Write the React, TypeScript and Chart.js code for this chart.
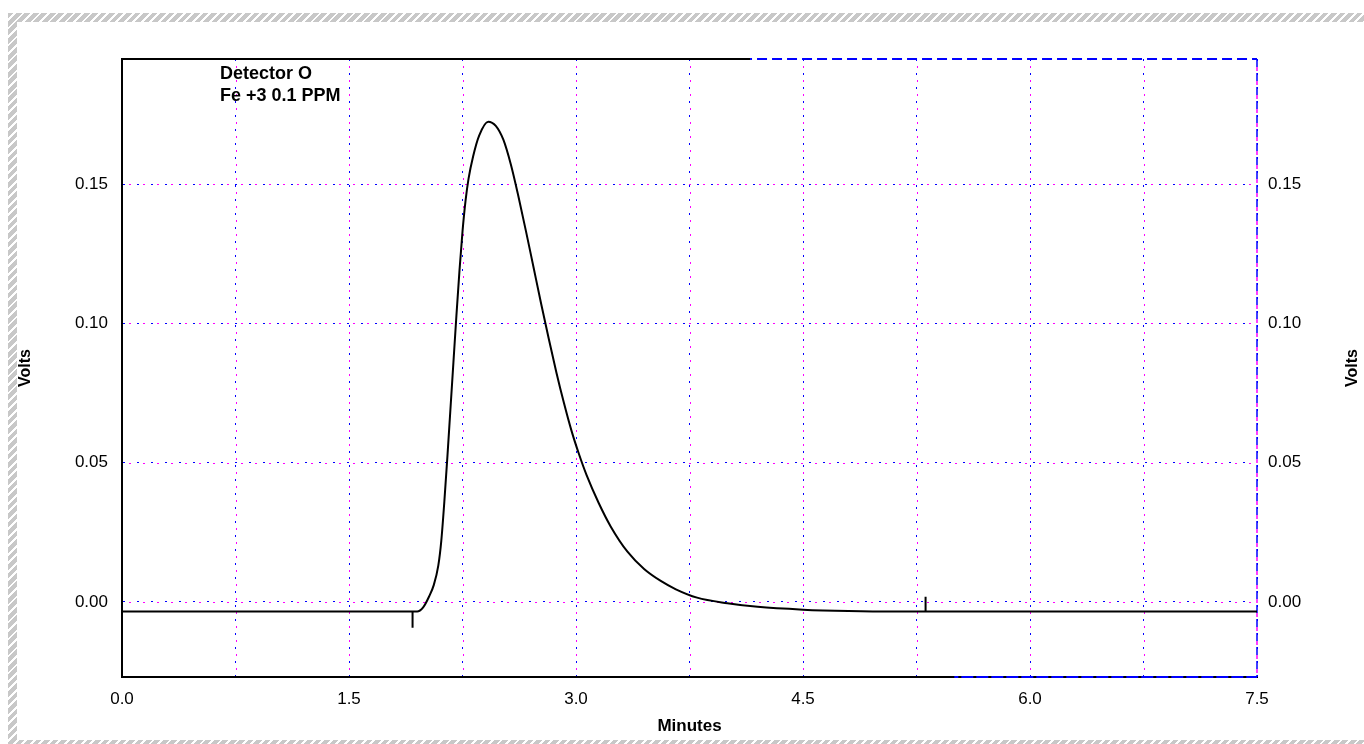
import React, { useEffect, useRef } from "react";
import { Chart, registerables } from "chart.js";

Chart.register(...registerables);

// ---- data ----
const times = [
  0, 1.9, 1.95, 1.99, 2.03, 2.06, 2.09, 2.11, 2.13, 2.15, 2.17, 2.19, 2.21, 2.23,
  2.25, 2.27, 2.29, 2.32, 2.36, 2.42, 2.47, 2.52, 2.57, 2.62, 2.67, 2.72, 2.77,
  2.82, 2.87, 2.92, 2.97, 3.02, 3.07, 3.15, 3.23, 3.34, 3.45, 3.56, 3.66, 3.8, 4.0,
  4.2, 4.5, 4.8, 5.1, 7.5,
];
const volts = [
  -0.0035, -0.0035, -0.0035, -0.002, 0.002, 0.006, 0.013, 0.022, 0.036, 0.052,
  0.069, 0.086, 0.103, 0.119, 0.133, 0.144, 0.152, 0.16, 0.1675, 0.1725, 0.171,
  0.166, 0.157, 0.1455, 0.133, 0.12, 0.107, 0.0945, 0.0825, 0.0715, 0.0615, 0.053,
  0.0455, 0.0355, 0.027, 0.018, 0.0118, 0.0075, 0.0045, 0.0015, -0.0005, -0.0018,
  -0.0028, -0.0033, -0.0035, -0.0035,
];
const markerTimes = [1.92, 5.31];
const markerTops = [-0.0093, 0.0018];
const baselineVolts = -0.0035;
const yTicks = [0, 0.05, 0.1, 0.15];
const xTickStep = 0.75;
const xLabelStep = 1.5;
const xRange = [0, 7.5];
const yRange = [-0.027, 0.195];
const headerLines = ["Detector O", "Fe +3 0.1 PPM"];
const xTitle = "Minutes";
const yTitle = "Volts";

const FONT = "'Liberation Sans', Arial, sans-serif";
const BLUE = "#0000ff";
const MAGENTA = "#ff00ff";

const overlayPlugin = {
  id: "overlay",
  beforeDatasetsDraw(chart: any) {
    const { ctx, chartArea, scales } = chart;
    const { left, right, top, bottom } = chartArea;
    const x = scales.x;
    const y = scales.y;
    ctx.save();
    // magenta interleaved grid dashes
    ctx.strokeStyle = MAGENTA;
    ctx.lineWidth = 1;
    ctx.setLineDash([2, 12]);
    ctx.lineDashOffset = -7;
    x.ticks.forEach((t: any) => {
      const px = Math.round(x.getPixelForValue(t.value)) + 0.5;
      if (px < left + 2 || px > right - 2) return;
      ctx.beginPath();
      ctx.moveTo(px, top);
      ctx.lineTo(px, bottom);
      ctx.stroke();
    });
    y.ticks.forEach((t: any) => {
      const py = Math.round(y.getPixelForValue(t.value)) + 0.5;
      ctx.beginPath();
      ctx.moveTo(left, py);
      ctx.lineTo(right, py);
      ctx.stroke();
    });
    // top frame
    const split = x.getPixelForValue(4.15);
    ctx.setLineDash([]);
    ctx.strokeStyle = "#000";
    ctx.lineWidth = 2;
    ctx.beginPath();
    ctx.moveTo(left, top);
    ctx.lineTo(split, top);
    ctx.stroke();
    ctx.strokeStyle = BLUE;
    ctx.setLineDash([10, 5]);
    ctx.beginPath();
    ctx.moveTo(split, top);
    ctx.lineTo(right, top);
    ctx.stroke();
    // bottom frame beyond black part
    const bsplit = x.getPixelForValue(5.5);
    ctx.setLineDash([12, 3]);
    ctx.strokeStyle = BLUE;
    ctx.beginPath();
    ctx.moveTo(bsplit, bottom);
    ctx.lineTo(right, bottom);
    ctx.stroke();
    // right frame
    ctx.lineWidth = 1.5;
    ctx.setLineDash([8, 6]);
    ctx.lineDashOffset = 0;
    ctx.strokeStyle = BLUE;
    ctx.beginPath();
    ctx.moveTo(right, top);
    ctx.lineTo(right, bottom);
    ctx.stroke();
    ctx.strokeStyle = MAGENTA;
    ctx.lineDashOffset = -8;
    ctx.setLineDash([4, 10]);
    ctx.beginPath();
    ctx.moveTo(right, top);
    ctx.lineTo(right, bottom);
    ctx.stroke();
    ctx.restore();
  },
  afterDraw(chart: any) {
    const { ctx, chartArea } = chart;
    ctx.save();
    ctx.fillStyle = "#000";
    ctx.font = `bold 18px ${FONT}`;
    ctx.textBaseline = "middle";
    ctx.textAlign = "left";
    headerLines.forEach((line, i) => {
      ctx.fillText(line, chartArea.left + 98, chartArea.top + 15 + i * 22);
    });
    // right axis title (reads bottom-to-top)
    ctx.translate(1353, (chartArea.top + chartArea.bottom) / 2);
    ctx.rotate(-Math.PI / 2);
    ctx.textAlign = "center";
    ctx.font = `bold 16px ${FONT}`;
    ctx.fillText(yTitle, 0, 0);
    ctx.restore();
  },
};

export default function App() {
  const canvasRef = useRef<HTMLCanvasElement | null>(null);

  useEffect(() => {
    document.body.style.margin = "0";
    document.body.style.overflow = "hidden";
    const canvas = canvasRef.current;
    if (!canvas) return;

    const curve = times.map((t, i) => ({ x: t, y: volts[i] }));
    const markers: any[] = [];
    markerTimes.forEach((t, i) => {
      markers.push({ x: t, y: baselineVolts });
      markers.push({ x: t, y: markerTops[i] });
      markers.push({ x: t, y: null });
    });

    const tickFont = { family: FONT, size: 17 };
    const isLabel = (v: number) =>
      Math.abs(v / xLabelStep - Math.round(v / xLabelStep)) < 1e-6;

    const chart = new Chart(canvas, {
      type: "line",
      data: {
        datasets: [
          {
            label: "trace",
            data: curve,
            borderColor: "#000",
            borderWidth: 2,
            pointRadius: 0,
            cubicInterpolationMode: "monotone",
          },
          {
            label: "markers",
            data: markers,
            borderColor: "#000",
            borderWidth: 2,
            pointRadius: 0,
            spanGaps: false,
          },
        ],
      },
      plugins: [overlayPlugin],
      options: {
        animation: false,
        responsive: false,
        layout: { padding: { top: 59, left: 0, right: 0, bottom: 0 } },
        plugins: { legend: { display: false }, tooltip: { enabled: false } },
        scales: {
          x: {
            type: "linear",
            position: "bottom",
            min: xRange[0],
            max: xRange[1],
            ticks: {
              stepSize: xTickStep,
              autoSkip: false,
              maxRotation: 0,
              padding: 12,
              color: "#000",
              font: tickFont,
              callback: (v: any) => (isLabel(Number(v)) ? Number(v).toFixed(1) : ""),
            },
            grid: { color: BLUE, lineWidth: 1, drawTicks: false },
            border: { display: true, color: "#000", width: 2, dash: [2, 12] },
            title: {
              display: true,
              text: xTitle,
              color: "#000",
              font: { family: FONT, size: 17, weight: "bold" },
              padding: { top: 0, bottom: 7 },
            },
            afterFit: (s: any) => {
              s.height = 67;
            },
          },
          y: {
            type: "linear",
            position: "left",
            min: yRange[0],
            max: yRange[1],
            afterBuildTicks: (s: any) => {
              s.ticks = yTicks.map((v) => ({ value: v }));
            },
            ticks: {
              padding: 14,
              color: "#000",
              font: tickFont,
              callback: (v: any) => Number(v).toFixed(2),
            },
            grid: { color: BLUE, lineWidth: 1, drawTicks: false },
            border: { display: true, color: "#000", width: 2, dash: [2, 12] },
            title: {
              display: true,
              text: yTitle,
              color: "#000",
              font: { family: FONT, size: 16, weight: "bold" },
              padding: { top: 16, bottom: 0 },
            },
            afterFit: (s: any) => {
              s.width = 122;
            },
          },
          y2: {
            type: "linear",
            position: "right",
            min: yRange[0],
            max: yRange[1],
            afterBuildTicks: (s: any) => {
              s.ticks = yTicks.map((v) => ({ value: v }));
            },
            ticks: {
              padding: 11,
              color: "#000",
              font: tickFont,
              callback: (v: any) => Number(v).toFixed(2),
            },
            grid: { display: false, drawTicks: false },
            border: { display: false },
            afterFit: (s: any) => {
              s.width = 107;
            },
          },
        },
      } as any,
    });
    return () => chart.destroy();
  }, []);

  const hatch =
    "repeating-linear-gradient(135deg, #c8c8c8 0px, #c8c8c8 4px, #ffffff 4px, #ffffff 6px)";

  return (
    <div style={{ position: "absolute", left: 0, top: 0, width: 1364, height: 744, background: "#fff", overflow: "hidden" }}>
      <div style={{ position: "absolute", left: 8, top: 13, width: 1356, height: 731, background: hatch }} />
      <div style={{ position: "absolute", left: 17, top: 22, width: 1347, height: 718, background: "#fff" }} />
      <canvas
        ref={canvasRef}
        width={1364}
        height={744}
        style={{ position: "absolute", left: 0, top: 0, width: 1364, height: 744, display: "block" }}
      />
    </div>
  );
}
